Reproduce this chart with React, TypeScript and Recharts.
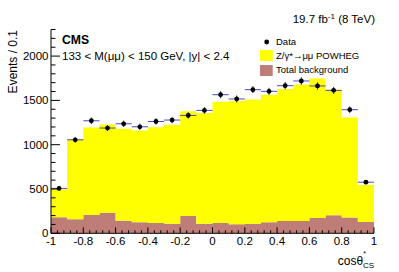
import React from 'react';
import { ComposedChart, Area, Scatter, XAxis, YAxis, ErrorBar } from 'recharts';

// Bin edges of cos(theta*_CS), 20 bins of width 0.1
const binEdges = [-1, -0.9, -0.8, -0.7, -0.6, -0.5, -0.4, -0.3, -0.2, -0.1, 0, 0.1, 0.2, 0.3, 0.4, 0.5, 0.6, 0.7, 0.8, 0.9, 1];
const binCenters = [-0.95, -0.85, -0.75, -0.65, -0.55, -0.45, -0.35, -0.25, -0.15, -0.05, 0.05, 0.15, 0.25, 0.35, 0.45, 0.55, 0.65, 0.75, 0.85, 0.95];

// Total background (stacked bottom)
const backgroundValues = [181, 158, 207, 233, 143, 124, 117, 109, 196, 109, 117, 102, 109, 124, 139, 139, 173, 204, 177, 128];
// Z/gamma* -> mumu POWHEG (stacked on top of background)
const signalValues = [317, 905, 988, 996, 1037, 1037, 1080, 1116, 1180, 1248, 1368, 1390, 1401, 1440, 1490, 1539, 1573, 1417, 1131, 418];
// Data
const dataValues = [507, 1055, 1270, 1188, 1236, 1202, 1262, 1278, 1330, 1387, 1564, 1516, 1621, 1602, 1666, 1719, 1663, 1613, 1395, 577];
const dataErrors = [23, 32, 36, 34, 35, 35, 36, 36, 36, 37, 40, 39, 40, 40, 41, 41, 41, 40, 37, 24];
const binHalfWidth = [0.05, 0.05, 0.05, 0.05, 0.05, 0.05, 0.05, 0.05, 0.05, 0.05, 0.05, 0.05, 0.05, 0.05, 0.05, 0.05, 0.05, 0.05, 0.05, 0.05];

const xMajorTicks = [-1, -0.8, -0.6, -0.4, -0.2, 0, 0.2, 0.4, 0.6, 0.8, 1];
const yMajorTicks = [0, 500, 1000, 1500, 2000];
const Y_MAX = 2300;

const xAllTicks: number[] = [];
for (let i = 0; i <= 50; i++) xAllTicks.push(Math.round((-1 + i * 0.04) * 100) / 100);
const yAllTicks: number[] = [];
for (let v = 0; v <= Y_MAX; v += 100) yAllTicks.push(v);

const histData = binEdges.map((x, i) => {
  const k = Math.min(i, backgroundValues.length - 1);
  return { x, bg: backgroundValues[k], sig: signalValues[k] };
});
const pointData = binCenters.map((x, i) => ({ x, y: dataValues[i], err: dataErrors[i], xerr: binHalfWidth[i] }));

const FONT = '"Liberation Sans", Arial, Helvetica, sans-serif';

const isXMajor = (v: number) => xMajorTicks.some((m) => Math.abs(m - v) < 1e-6);
const isYMajor = (v: number) => yMajorTicks.includes(v);

const XTick = (props: any) => {
  const { x, y, payload } = props;
  const v = payload.value;
  const major = isXMajor(v);
  return (
    <g>
      <line x1={x} x2={x} y1={y} y2={y - (major ? 6 : 3)} stroke="#000" strokeWidth={1} />
      {major && (
        <text x={x} y={y + 12} textAnchor="middle" fontSize={11.5} fontFamily={FONT} fill="#000">
          {String(Number(v.toFixed(1)))}
        </text>
      )}
    </g>
  );
};

const YTickLeft = (props: any) => {
  const { x, y, payload } = props;
  const v = payload.value;
  const major = isYMajor(v);
  return (
    <g>
      <line x1={x} x2={x + (major ? 9 : 4.5)} y1={y} y2={y} stroke="#000" strokeWidth={1} />
      {major && (
        <text x={x - 2.5} y={y + (v === 0 ? 3.2 : 4)} textAnchor="end" fontSize={11.5} fontFamily={FONT} fill="#000">
          {String(v)}
        </text>
      )}
    </g>
  );
};

const YTickRight = (props: any) => {
  const { x, y, payload } = props;
  const major = isYMajor(payload.value);
  return <line x1={x} x2={x - (major ? 9 : 4.5)} y1={y} y2={y} stroke="#000" strokeWidth={1} />;
};

const DataDot = (props: any) => {
  const { cx, cy } = props;
  return <circle cx={cx} cy={cy} r={2.4} fill="#000" />;
};

export default function App() {
  return (
    <div style={{ position: 'absolute', left: 0, top: 0, width: 399, height: 272, background: '#fff' }}>
      <ComposedChart
        width={399}
        height={272}
        data={histData}
        margin={{ top: 29.5, right: 25, bottom: 0, left: 0 }}
      >
        <XAxis
          dataKey="x"
          type="number"
          domain={[-1, 1]}
          ticks={xAllTicks}
          interval={0}
          allowDataOverflow
          height={38.7}
          tickSize={0}
          tickMargin={0}
          tickLine={false}
          axisLine={{ stroke: '#000' }}
          tick={<XTick />}
        />
        <XAxis
          xAxisId="top"
          dataKey="x"
          type="number"
          orientation="top"
          domain={[-1, 1]}
          allowDataOverflow
          height={0}
          tick={false}
          tickLine={false}
          axisLine={{ stroke: '#000' }}
        />
        <YAxis
          type="number"
          domain={[0, Y_MAX]}
          ticks={yAllTicks}
          interval={0}
          allowDataOverflow
          width={51}
          tickSize={0}
          tickMargin={0}
          tickLine={false}
          axisLine={{ stroke: '#000' }}
          tick={<YTickLeft />}
        />
        <YAxis
          yAxisId="right"
          type="number"
          orientation="right"
          domain={[0, Y_MAX]}
          ticks={yAllTicks}
          interval={0}
          allowDataOverflow
          width={0}
          tickSize={0}
          tickMargin={0}
          tickLine={false}
          axisLine={{ stroke: '#000' }}
          tick={<YTickRight />}
        />
        <Area
          dataKey="bg"
          stackId="h"
          type="stepAfter"
          fill="#be7d76"
          fillOpacity={1}
          stroke="none"
          isAnimationActive={false}
          activeDot={false}
          dot={false}
        />
        <Area
          dataKey="sig"
          stackId="h"
          type="stepAfter"
          fill="#ffff00"
          fillOpacity={1}
          stroke="none"
          isAnimationActive={false}
          activeDot={false}
          dot={false}
        />
        <Scatter data={pointData} dataKey="y" isAnimationActive={false} shape={<DataDot />}>
          <ErrorBar dataKey="xerr" direction="x" width={0} stroke="#4848c8" strokeWidth={1} />
          <ErrorBar dataKey="err" direction="y" width={0} stroke="#202070" strokeWidth={1} />
        </Scatter>
      </ComposedChart>
      <svg
        width={399}
        height={272}
        style={{ position: 'absolute', left: 0, top: 0, pointerEvents: 'none' }}
        fontFamily={FONT}
      >
        <text x={375} y={23} textAnchor="end" fontSize={11.5} fill="#000">
          19.7 fb<tspan dy={-4.5} fontSize={8}>-1</tspan>
          <tspan dy={4.5}> (8 TeV)</tspan>
        </text>
        <text x={62} y={43.5} fontSize={12.2} fontWeight="bold" fill="#000">CMS</text>
        <text x={62} y={60} fontSize={11.5} fill="#000">133 &lt; M(μμ) &lt; 150 GeV, |y| &lt; 2.4</text>

        <circle cx={266.7} cy={42} r={2.4} fill="#000" />
        <text x={276} y={45.3} fontSize={9.5} fill="#000">Data</text>
        <rect x={260} y={50} width={12.7} height={11} fill="#ffff00" />
        <text x={276} y={59} fontSize={9.5} fill="#000">Z/γ*→μμ POWHEG</text>
        <rect x={260} y={65} width={12.7} height={11} fill="#be7d76" />
        <text x={276} y={72.8} fontSize={9.5} fill="#000">Total background</text>

        <text transform="rotate(-90)" x={-30} y={16.5} textAnchor="end" fontSize={12} fill="#000">
          Events / 0.1
        </text>
        <text x={374} y={265} textAnchor="end" fontSize={12} fill="#000">
          cosθ<tspan dy={-9} fontSize={7}>*</tspan>
          <tspan dx={-3} dy={12} fontSize={8}>CS</tspan>
        </text>
      </svg>
    </div>
  );
}
